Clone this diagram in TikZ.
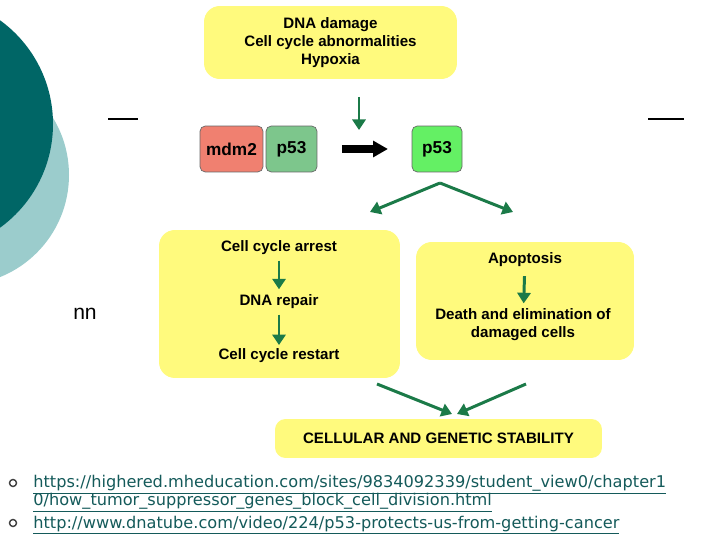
\documentclass[tikz,border=0pt]{standalone}
\usepackage{fontspec}
\setmainfont{Liberation Sans}
\newfontfamily\urlfont{DejaVu Sans}
\usetikzlibrary{arrows.meta,positioning}
\definecolor{tealdk}{RGB}{0,102,102}
\definecolor{teallt}{RGB}{155,204,204}
\definecolor{boxyel}{RGB}{255,250,125}
\definecolor{arrgrn}{RGB}{27,122,72}
\definecolor{mdmred}{RGB}{240,128,112}
\definecolor{pgrn}{RGB}{125,198,140}
\definecolor{pbright}{RGB}{100,240,100}
\definecolor{linkcol}{RGB}{20,90,90}
\tikzset{
  ybox/.style={fill=boxyel, rounded corners=9pt, inner sep=0pt, align=center,
               font=\fontsize{8.6}{10.2}\selectfont\bfseries},
  prot/.style={draw=black!60, rounded corners=3pt, minimum height=0.92cm,
               inner sep=0pt, font=\fontsize{9.8}{10}\selectfont\bfseries},
  lbl/.style={font=\fontsize{8.6}{10.2}\selectfont\bfseries, inner sep=1pt, align=center},
  garr/.style={-{Triangle[length=6pt,width=7.5pt]}, arrgrn, line width=1.7pt},
  barr/.style={-{Triangle[length=8.5pt,width=9pt]}, black, line width=4pt},
  url/.style={font=\urlfont\fontsize{9.2}{10}\selectfont, text=linkcol,
              anchor=base west, inner sep=0pt},
  bul/.style={circle, draw=black!75, line width=0.8pt, minimum size=4pt, inner sep=0pt},
}

\begin{document}
\begin{tikzpicture}[x=0.02cm, y=-0.02cm]
    \useasboundingbox (0,0) rectangle (720,540);
    % slide decoration
    \fill[teallt] (-41,175) circle (110);
    \fill[tealdk] (-75,124) circle (128);
    \draw[line width=1.6pt] (108,119) -- (138,119);
    \draw[line width=1.6pt] (648,119) -- (684,119);
    \node[font=\fontsize{12}{13}\selectfont] (nn) at (85,314) {nn};

    % triggers
    \node[ybox, minimum width=5.06cm, minimum height=1.46cm] (trig) at (330.5,42.5)
         {DNA damage\\Cell cycle abnormalities\\Hypoxia};
    \coordinate (sigA) at (359,97); \coordinate (sigB) at (359,130);
    \draw[garr] (sigA) -- (sigB);

    % p53 release
    \node[prot, fill=mdmred, minimum width=1.26cm] (mdm) at (231.5,149) {mdm2};
    \node[prot, fill=pgrn, minimum width=1.02cm] (p53a) at (291.5,149) {p53};
    \node[prot, fill=pbright, minimum width=1.0cm] (p53b) at (437,149) {p53};
    \draw[barr, shorten <=14pt, shorten >=13.5pt] (p53a) -- (p53b);

    \coordinate (fork) at (440,183);
    \coordinate (toL) at (370,212); \coordinate (toR) at (513,212);
    \draw[garr] (fork) -- (toL);
    \draw[garr] (fork) -- (toR);

    % outcomes
    \node[ybox, minimum width=4.82cm, minimum height=2.96cm] (lbox) at (279.5,304) {};
    \node[lbl] (arrest) at (279,248) {Cell cycle arrest};
    \node[lbl] (repair) at (279,302) {DNA repair};
    \node[lbl] (restart) at (279,356) {Cell cycle restart};
    \draw[garr, shorten <=2pt, shorten >=2pt] (arrest) -- (repair);
    \draw[garr, shorten <=2pt, shorten >=1pt] (repair) -- (restart);

    \node[ybox, minimum width=4.36cm, minimum height=2.36cm] (rbox) at (525,301) {};
    \node[lbl] (apop) at (525,260) {Apoptosis};
    \node[lbl] (death) at (523,325) {Death and elimination of\\damaged cells};
    \draw[garr, shorten <=4pt, shorten >=2pt] (apop) -- (death);

    % result
    \node[ybox, rounded corners=6pt, minimum width=6.54cm, minimum height=0.78cm] (stab)
         at (438.5,438.5) {CELLULAR AND GENETIC STABILITY};
    \coordinate (fromL) at (377,384); \coordinate (fromR) at (526,384);
    \coordinate (inL) at (452,414); \coordinate (inR) at (457,414);
    \draw[garr] (fromL) -- (inL);
    \draw[garr] (fromR) -- (inR);

    % sources
    \node[bul] (b1) at (13,483) {};
    \node[bul] (b2) at (13,523) {};
    \node[url] (u1) at (33,487)
         {\underline{https://highered.mheducation.com/sites/9834092339/student\_view0/chapter1}};
    \node[url] (u2) at (33,505)
         {\underline{0/how\_tumor\_suppressor\_genes\_block\_cell\_division.html}};
    \node[url] (u3) at (33,528)
         {\underline{http://www.dnatube.com/video/224/p53-protects-us-from-getting-cancer}};
\end{tikzpicture}
\end{document}
